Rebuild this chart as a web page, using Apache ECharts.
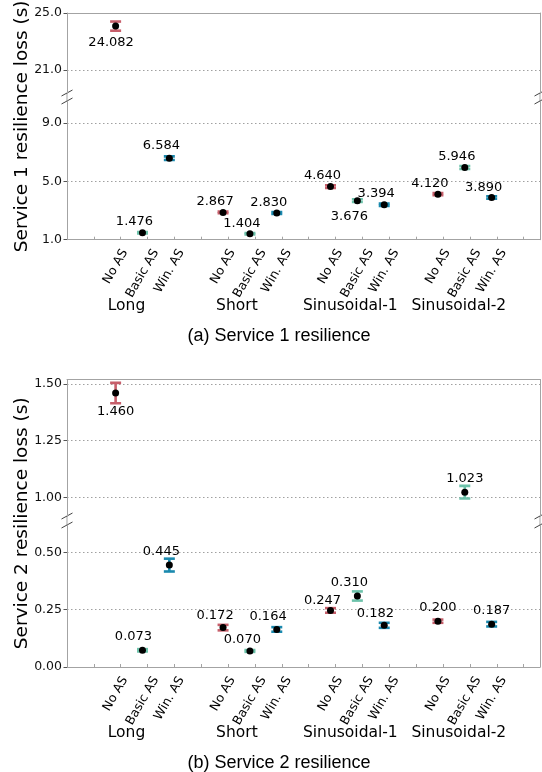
<!DOCTYPE html>
<html><head><meta charset="utf-8">
<script src="https://cdn.jsdelivr.net/npm/echarts@6/dist/echarts.min.js"></script>
<style>html,body{margin:0;padding:0;background:#fff}#c{width:542px;height:772px}</style>
</head><body><div id="c"></div>
<script>
// ---------------- data ----------------
const groups = ['Long', 'Short', 'Sinusoidal-1', 'Sinusoidal-2'];
const conditions = ['No AS', 'Basic AS', 'Win. AS'];

// Service 1 resilience loss (s)
const s1NoAS = [24.082, 2.867, 4.640, 4.120];
const s1Basic = [1.476, 1.404, 3.676, 5.946];
const s1Win = [6.584, 2.830, 3.394, 3.890];
const s1NoASErr = [0.32, 0.06, 0.09, 0.08];
const s1BasicErr = [0.05, 0.05, 0.09, 0.10];
const s1WinErr = [0.12, 0.07, 0.08, 0.09];

// Service 2 resilience loss (s)
const s2NoAS = [1.460, 0.172, 0.247, 0.200];
const s2Basic = [0.073, 0.070, 0.310, 1.023];
const s2Win = [0.445, 0.164, 0.182, 0.187];
const s2NoASErr = [0.045, 0.012, 0.010, 0.007];
const s2BasicErr = [0.005, 0.004, 0.020, 0.028];
const s2WinErr = [0.028, 0.010, 0.011, 0.010];

// y tick labels
const s1UpperTicks = [21, 25];
const s1LowerTicks = [1, 5, 9];
const s2UpperTicks = [1.00, 1.25, 1.50];
const s2LowerTicks = [0, 0.25, 0.50];

// ---------------- layout / style ----------------
const colors = ['#c75f6b', '#6cc2aa', '#1a89ae'];
const spine = '#a3a3a3';
const FONT = '"DejaVu Sans", sans-serif';
const X_MIN = -1.81, X_MAX = 15.8;
const GRID_LEFT = 67, GRID_RIGHT = 2;

// label offsets [dx, dy] relative to the point (per condition, per group)
const s1LabelOffsets = [
  [[-4.5, 17], [-8, -10.5], [-8, -10.7], [-8, -10.5]],
  [[-8, -11.5], [-8, -10.6], [-8, 16], [-8, -10.7]],
  [[-8, -12.3], [-8, -10.7], [-8, -10.7], [-8, -10]]
];
const s2LabelOffsets = [
  [[0, 19], [-8, -12], [-8, -9.5], [0, -13.8]],
  [[-9, -14], [-7.6, -11.7], [-8, -13.7], [0, -13.3]],
  [[-8, -13.3], [-8.7, -12.7], [-8.8, -12], [0, -13.8]]
];

const panels = [
  {
    means: [s1NoAS, s1Basic, s1Win], errs: [s1NoASErr, s1BasicErr, s1WinErr],
    offsets: s1LabelOffsets, dec: 1,
    yName: 'Service 1 resilience loss (s)', title: '(a) Service 1 resilience',
    sections: [
      { top: 13, height: 80, min: 19.4, max: 25, ticks: s1UpperTicks },
      { top: 101, height: 138.7, min: 1, max: 10.5, ticks: s1LowerTicks }
    ]
  },
  {
    means: [s2NoAS, s2Basic, s2Win], errs: [s2NoASErr, s2BasicErr, s2WinErr],
    offsets: s2LabelOffsets, dec: 2,
    yName: 'Service 2 resilience loss (s)', title: '(b) Service 2 resilience',
    sections: [
      { top: 379.5, height: 136.5, min: 0.918, max: 1.52, ticks: s2UpperTicks },
      { top: 525, height: 142, min: 0, max: 0.62, ticks: s2LowerTicks }
    ]
  }
];

const slotX = (g, c) => g * 4 + c;

const grid = [], xAxis = [], yAxis = [], series = [];
panels.forEach((p, pi) => {
  p.sections.forEach((s, si) => {
    const gi = pi * 2 + si;
    const isUpper = si === 0;
    grid.push({ left: GRID_LEFT, right: GRID_RIGHT, top: s.top, height: s.height });
    xAxis.push({
      type: 'value', gridIndex: gi, min: X_MIN, max: X_MAX, interval: 1,
      position: isUpper ? 'top' : 'bottom',
      axisLine: { show: true, onZero: false, lineStyle: { color: spine, width: 1 } },
      axisTick: { show: !isUpper, inside: true, length: 3, lineStyle: { color: spine } },
      axisLabel: { show: false }, splitLine: { show: false }
    });
    yAxis.push({
      type: 'value', gridIndex: gi, min: s.min, max: s.max, position: 'left',
      axisLine: { show: true, onZero: false, lineStyle: { color: spine, width: 1 } },
      axisTick: { show: true, customValues: s.ticks, length: 3.5, lineStyle: { color: '#555' } },
      axisLabel: { customValues: s.ticks, formatter: v => Number(v).toFixed(p.dec),
        fontFamily: FONT, fontSize: 12.5, color: '#111', margin: 5 },
      splitLine: { show: true, lineStyle: { color: '#a0a0a0', width: 1, type: [1.5, 2.5] } }
    });
    yAxis.push({
      type: 'value', gridIndex: gi, min: s.min, max: s.max, position: 'right',
      axisLine: { show: true, onZero: false, lineStyle: { color: spine, width: 1 } },
      axisTick: { show: false }, axisLabel: { show: false }, splitLine: { show: false }
    });
    const yIdx = gi * 2;
    conditions.forEach((cond, c) => {
      const m = p.means[c], e = p.errs[c];
      series.push({
        type: 'custom', name: cond, xAxisIndex: gi, yAxisIndex: yIdx, clip: true, z: 2, silent: true,
        data: m.map((v, g) => [slotX(g, c), v - e[g], v + e[g]]),
        renderItem: (params, api) => {
          const x = api.value(0);
          const lo = api.coord([x, api.value(1)]);
          const hi = api.coord([x, api.value(2)]);
          const cw = 5.5;
          const st = { stroke: colors[c], lineWidth: 2.6 };
          return { type: 'group', children: [
            { type: 'line', shape: { x1: lo[0], y1: lo[1], x2: hi[0], y2: hi[1] }, style: st },
            { type: 'line', shape: { x1: lo[0] - cw, y1: lo[1], x2: lo[0] + cw, y2: lo[1] }, style: st },
            { type: 'line', shape: { x1: hi[0] - cw, y1: hi[1], x2: hi[0] + cw, y2: hi[1] }, style: st }
          ]};
        }
      });
      series.push({
        type: 'scatter', name: cond, xAxisIndex: gi, yAxisIndex: yIdx, clip: true, z: 3, silent: true,
        symbol: 'circle', symbolSize: 7, itemStyle: { color: '#000', opacity: 1 },
        label: { show: true, position: 'inside', formatter: d => d.value[1].toFixed(3),
          fontFamily: FONT, fontSize: 13, color: '#000' },
        data: m.map((v, g) => ({ value: [slotX(g, c), v], label: { offset: p.offsets[c][g] } }))
      });
    });
  });
});

const chart = echarts.init(document.getElementById('c'), null, { renderer: 'canvas' });
chart.setOption({ animation: false, backgroundColor: '#fff', grid, xAxis, yAxis, series });

// ---------------- texts and broken-axis decorations ----------------
const ctx = document.createElement('canvas').getContext('2d');
const TICK_FONT_SIZE = 12.5;
ctx.font = TICK_FONT_SIZE + 'px "DejaVu Sans"';
const graphic = [];
const txt = (x, y, text, font, rot) => ({
  type: 'text', x, y, rotation: rot || 0, silent: true,
  style: { text, font, fill: '#000', textAlign: 'center', textVerticalAlign: 'middle',
    align: 'center', verticalAlign: 'middle' }
});
const groupLabelDx = [-16, -13, -7, -6];

panels.forEach((p, pi) => {
  const upper = p.sections[0], lower = p.sections[1];
  const lowerGi = pi * 2 + 1;
  const axisY = lower.top + lower.height;
  groups.forEach((g, gIdx) => {
    conditions.forEach((cond, c) => {
      const px = chart.convertToPixel({ xAxisIndex: lowerGi }, slotX(gIdx, c));
      const L = ctx.measureText(cond).width;
      const H = L * Math.sin(Math.PI / 3) + TICK_FONT_SIZE * 1.17 * 0.5;
      graphic.push(txt(px, axisY + 7 + H / 2, cond, TICK_FONT_SIZE + 'px "DejaVu Sans"', Math.PI / 3));
    });
    const gx = chart.convertToPixel({ xAxisIndex: lowerGi }, slotX(gIdx, 1)) + groupLabelDx[gIdx];
    graphic.push(txt(gx, axisY + 66.3, g, '15.5px "DejaVu Sans"'));
  });
  graphic.push(txt(279, axisY + 96.5, p.title, '18px "Liberation Sans"'));
  graphic.push(txt(21.7, (upper.top + axisY) / 2, p.yName, '18.5px "DejaVu Sans"', Math.PI / 2));
  const yb = upper.top + upper.height, yt = lower.top;
  [GRID_LEFT, 542 - GRID_RIGHT].forEach(sx => {
    graphic.push({ type: 'line', silent: true, shape: { x1: sx, y1: yb, x2: sx, y2: yt },
      style: { stroke: spine, lineWidth: 1 } });
    [yb, yt].forEach(yy => {
      graphic.push({ type: 'line', silent: true,
        shape: { x1: sx - 5.5, y1: yy + 3, x2: sx + 5.5, y2: yy - 3 },
        style: { stroke: '#444', lineWidth: 1 } });
    });
  });
});
chart.setOption({ graphic: { elements: graphic } });
</script>
</body></html>
